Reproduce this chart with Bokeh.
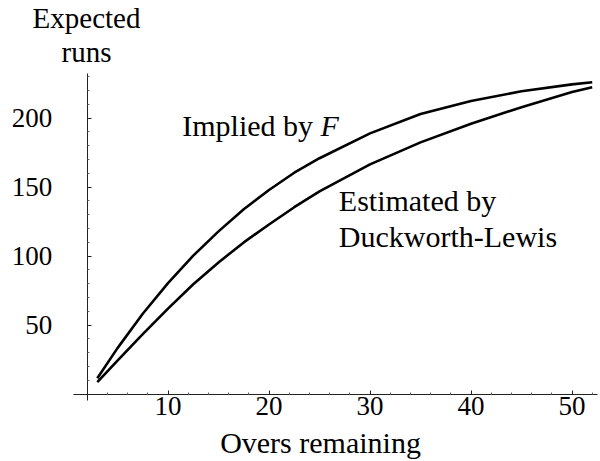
from bokeh.plotting import figure
from bokeh.models import FixedTicker, Label, Range1d
from bokeh.embed import file_html
from bokeh.resources import INLINE

# ---- data ----
overs = [3, 5, 7.5, 10, 12.5, 15, 17.5, 20, 22.5, 25, 30, 35, 40, 45, 50, 52]
implied_by_F = [11.6, 33.4, 58.3, 80.5, 100.4, 118, 134, 148, 160.5, 171, 189, 203, 212.5, 219.5, 224.5, 226]
duckworth_lewis = [8.7, 24.4, 43.5, 62, 79.7, 95.5, 110, 123, 135.5, 147, 166.5, 182.5, 196, 208, 219, 222.5]

x_major = [10, 20, 30, 40, 50]
x_minor = [4, 6, 8, 12, 14, 16, 18, 22, 24, 26, 28, 32, 34, 36, 38, 42, 44, 46, 48, 52]
y_major = [50, 100, 150, 200]
y_minor = [10, 20, 30, 40, 60, 70, 80, 90, 110, 120, 130, 140, 160, 170, 180, 190, 210, 220, 230]

FONT = "Liberation Serif"

p = figure(width=600, height=461,
           x_range=Range1d(-6.584, 52.82), y_range=Range1d(-48.77, 285.29),
           output_backend="svg", toolbar_location=None,
           min_border_left=0, min_border_right=0,
           min_border_top=0, min_border_bottom=0)
p.outline_line_color = None
p.grid.visible = False
p.background_fill_color = "white"
p.border_fill_color = "white"

p.line(overs, implied_by_F, line_color="black", line_width=2.6, line_join="round")
p.line(overs, duckworth_lewis, line_color="black", line_width=2.6, line_join="round")

# axes crossing inside the frame like Mathematica's
p.xaxis.fixed_location = 0
p.yaxis.fixed_location = 2
p.xaxis.bounds = (0.673, 52.52)
p.yaxis.bounds = (-4.57, 232.2)
p.xaxis.ticker = FixedTicker(ticks=x_major, minor_ticks=x_minor)
p.yaxis.ticker = FixedTicker(ticks=y_major, minor_ticks=y_minor)
for ax in (p.xaxis, p.yaxis):
    ax.axis_line_color = "#222222"
    ax.axis_line_width = 1
    ax.major_tick_in = 4
    ax.major_tick_out = 0
    ax.minor_tick_in = 2
    ax.minor_tick_out = 0
    ax.major_tick_line_color = "#222222"
    ax.minor_tick_line_color = "#666666"
    ax.major_label_text_font = FONT
    ax.major_label_text_font_size = "27px"
    ax.major_label_text_color = "black"
p.xaxis.major_label_standoff = 3
p.yaxis.major_label_standoff = 35

def lab(x, y, text, align="left", style="normal", size="30px"):
    p.add_layout(Label(x=x, y=y, text=text, text_font=FONT, text_font_size=size,
                       text_align=align, text_baseline="alphabetic",
                       text_font_style=style, text_color="black"))

lab(1.93, 272.8, "Expected", align="center", size="29px")
lab(1.93, 248.0, "runs", align="center", size="29px")
lab(25.1, -35.2, "Overs remaining", align="center")
lab(11.41, 194.7, "Implied by")
lab(25.1, 194.7, "F", style="italic")
lab(26.91, 140.6, "Estimated by")
lab(26.91, 114.5, "Duckworth-Lewis")

open("out.html", "w").write(file_html(p, INLINE))
